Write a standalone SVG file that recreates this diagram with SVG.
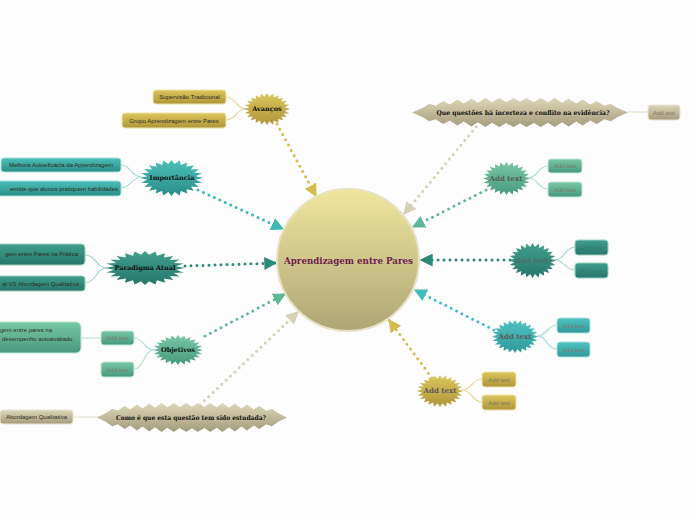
<svg xmlns="http://www.w3.org/2000/svg" xmlns:xlink="http://www.w3.org/1999/xlink" width="696" height="520" viewBox="0 0 696 520">
<style>
.bt{font-family:"Liberation Sans",Arial,sans-serif;font-size:6px;fill:#2e2e22}
.at{font-family:"Liberation Sans",Arial,sans-serif;font-size:6px;fill:#7a7a6a;text-anchor:middle}
.nt{font-family:"DejaVu Serif","Liberation Serif",serif;font-size:6.5px;font-weight:bold;fill:#111;text-anchor:middle}
.nta{font-family:"DejaVu Serif","Liberation Serif",serif;font-size:7px;font-weight:bold;fill:#5a5a5a;text-anchor:middle}
.main{fill:none;stroke-width:3;stroke-dasharray:0 6;stroke-linecap:round}
.sub{fill:none;stroke-width:1.2}
.box{stroke-width:1}
</style>
<defs>
<symbol id="burst" viewBox="-50 -50 100 100" preserveAspectRatio="none">
<polygon points="50,0 38.66,5.09 48.3,12.94 36.03,14.93 43.3,25 30.94,23.74 35.36,35.36 23.74,30.94 25,43.3 14.93,36.03 12.94,48.3 5.09,38.66 0,50 -5.09,38.66 -12.94,48.3 -14.93,36.03 -25,43.3 -23.74,30.94 -35.36,35.36 -30.94,23.74 -43.3,25 -36.03,14.93 -48.3,12.94 -38.66,5.09 -50,0 -38.66,-5.09 -48.3,-12.94 -36.03,-14.93 -43.3,-25 -30.94,-23.74 -35.36,-35.36 -23.74,-30.94 -25,-43.3 -14.93,-36.03 -12.94,-48.3 -5.09,-38.66 0,-50 5.09,-38.66 12.94,-48.3 14.93,-36.03 25,-43.3 23.74,-30.94 35.36,-35.36 30.94,-23.74 43.3,-25 36.03,-14.93 48.3,-12.94 38.66,-5.09"/>
</symbol>
<symbol id="wide" viewBox="-100 -15 200 30" preserveAspectRatio="none">
<polygon points="-100,0 -90,-4.8 -84,-9 -78,-6.9 -71,-12 -65,-8.4 -58,-13.5 -52,-9.4 -45,-14.5 -39,-10.1 -32,-15 -26,-10.6 -19,-15 -13,-10.9 -6,-15 0,-11 6,-15 13,-10.9 19,-15 26,-10.6 32,-15 39,-10.1 45,-14.5 52,-9.4 58,-13.5 65,-8.4 71,-12 78,-6.9 84,-9 90,-4.8 100,0 90,4.8 84,9 78,6.9 71,12 65,8.4 58,13.5 52,9.4 45,14.5 39,10.1 32,15 26,10.6 19,15 13,10.9 6,15 0,11 -6,15 -13,10.9 -19,15 -26,10.6 -32,15 -39,10.1 -45,14.5 -52,9.4 -58,13.5 -65,8.4 -71,12 -78,6.9 -84,9 -90,4.8"/>
</symbol>
<linearGradient id="gCenter" x1="0" y1="0" x2="0" y2="1"><stop offset="0" stop-color="#f0e69e"/><stop offset="1" stop-color="#afa577"/></linearGradient>
<linearGradient id="gGold" x1="0" y1="0" x2="0" y2="1"><stop offset="0" stop-color="#dcc65c"/><stop offset="1" stop-color="#ae963a"/></linearGradient>
<linearGradient id="gTeal" x1="0" y1="0" x2="0" y2="1"><stop offset="0" stop-color="#4cc0b8"/><stop offset="1" stop-color="#2a8c88"/></linearGradient>
<linearGradient id="gDark" x1="0" y1="0" x2="0" y2="1"><stop offset="0" stop-color="#40a08c"/><stop offset="1" stop-color="#26766a"/></linearGradient>
<linearGradient id="gGreen" x1="0" y1="0" x2="0" y2="1"><stop offset="0" stop-color="#78c8a6"/><stop offset="1" stop-color="#48987e"/></linearGradient>
<linearGradient id="gAqua" x1="0" y1="0" x2="0" y2="1"><stop offset="0" stop-color="#50c4c2"/><stop offset="1" stop-color="#2e9898"/></linearGradient>
<linearGradient id="gBeige" x1="0" y1="0" x2="0" y2="1"><stop offset="0" stop-color="#ddd6b8"/><stop offset="1" stop-color="#a49c7c"/></linearGradient>
<marker id="mGold" viewBox="0 0 10 10" refX="9" refY="5" markerWidth="13" markerHeight="13" markerUnits="userSpaceOnUse" orient="auto"><path d="M0,0 L10,5 L0,10 z" fill="#d4bc50"/></marker>
<marker id="mTeal" viewBox="0 0 10 10" refX="9" refY="5" markerWidth="13" markerHeight="13" markerUnits="userSpaceOnUse" orient="auto"><path d="M0,0 L10,5 L0,10 z" fill="#3cb8b0"/></marker>
<marker id="mDark" viewBox="0 0 10 10" refX="9" refY="5" markerWidth="13" markerHeight="13" markerUnits="userSpaceOnUse" orient="auto"><path d="M0,0 L10,5 L0,10 z" fill="#2e8a78"/></marker>
<marker id="mGreen" viewBox="0 0 10 10" refX="9" refY="5" markerWidth="13" markerHeight="13" markerUnits="userSpaceOnUse" orient="auto"><path d="M0,0 L10,5 L0,10 z" fill="#5cb896"/></marker>
<marker id="mAqua" viewBox="0 0 10 10" refX="9" refY="5" markerWidth="13" markerHeight="13" markerUnits="userSpaceOnUse" orient="auto"><path d="M0,0 L10,5 L0,10 z" fill="#40bcbc"/></marker>
<marker id="mBeige" viewBox="0 0 10 10" refX="9" refY="5" markerWidth="13" markerHeight="13" markerUnits="userSpaceOnUse" orient="auto"><path d="M0,0 L10,5 L0,10 z" fill="#d6d0b4"/></marker>
</defs>
<rect width="696" height="520" fill="#fdfdfd"/>

<g id="connectors">
<path class="main" stroke="#d4bc50" d="M277,124 L316,196" marker-end="url(#mGold)"/>
<path class="main" stroke="#3cb8b0" d="M198,190 L283,229" marker-end="url(#mTeal)"/>
<path class="main" stroke="#2e8a78" d="M185,266 L276,263" marker-end="url(#mDark)"/>
<path class="main" stroke="#5cb896" d="M205,336 L285,294" marker-end="url(#mGreen)"/>
<path class="main" stroke="#d6d0b4" d="M200,405 L298,312" marker-end="url(#mBeige)"/>
<path class="main" stroke="#d6d0b4" d="M480,122 L404,214" marker-end="url(#mBeige)"/>
<path class="main" stroke="#5cb896" d="M486,190 L413,227" marker-end="url(#mGreen)"/>
<path class="main" stroke="#2e8a78" d="M510,260 L421,260" marker-end="url(#mDark)"/>
<path class="main" stroke="#40bcbc" d="M494,330 L415,290" marker-end="url(#mAqua)"/>
<path class="main" stroke="#d4bc50" d="M432,378 L389,320" marker-end="url(#mGold)"/>
<path class="sub" stroke="#e6d9a0" d="M246,109 C236,109 236,97 226,97 M246,109 C236,109 236,120 226,120"/>
<path class="sub" stroke="#a8dcd6" d="M142,177 C131,177 131,165 121,165 M142,177 C131,177 131,188 121,188"/>
<path class="sub" stroke="#a8d4c8" d="M107,268 C96,268 96,255 85,255 M107,268 C96,268 96,283 85,283"/>
<path class="sub" stroke="#b4e0cc" d="M154,350 C144,350 144,338 134,338 M154,350 C144,350 144,369 134,369 M81,338 L101,338"/>
<path class="sub" stroke="#e0dccc" d="M73,417 L100,417 M628,112 L648,112"/>
<path class="sub" stroke="#b4e0cc" d="M528,178 C538,178 538,166 548,166 M528,178 C538,178 538,189 548,189"/>
<path class="sub" stroke="#a8d4c8" d="M554,260 C565,260 565,247 575,247 M554,260 C565,260 565,270 575,270"/>
<path class="sub" stroke="#a8dcd6" d="M537,336 C547,336 547,325 557,325 M537,336 C547,336 547,349 557,349"/>
<path class="sub" stroke="#e6d9a0" d="M462,390 C472,390 472,379 482,379 M462,390 C472,390 472,402 482,402"/>
</g>

<g id="center">
<circle cx="348" cy="260" r="71" fill="url(#gCenter)" stroke="#e8e2c4" stroke-width="2"/>
<text x="348.5" y="264" font-family="'DejaVu Serif','Liberation Serif',serif" font-size="10" font-weight="bold" fill="#6b1d50" text-anchor="middle" textLength="129" lengthAdjust="spacingAndGlyphs">Aprendizagem entre Pares</text>
</g>

<g id="n-avancos">
<use xlink:href="#burst" x="244" y="93" width="46" height="32" fill="url(#gGold)"/>
<text class="nt" x="267" y="111">Avanços</text>
</g>
<g id="n-avancos-1"><rect class="box" x="153" y="90" width="73" height="14" rx="3" fill="url(#gGold)" stroke="#f0e4a8"/><text class="bt" x="189.5" y="99" text-anchor="middle">Supervisão Tradicional</text></g>
<g id="n-avancos-2"><rect class="box" x="122" y="113" width="104" height="15" rx="3" fill="url(#gGold)" stroke="#f0e4a8"/><text class="bt" x="174" y="122.5" text-anchor="middle">Grupo Aprendizagem entre Pares</text></g>

<g id="n-importancia">
<use xlink:href="#burst" x="140" y="160" width="63" height="36" fill="url(#gTeal)"/>
<text class="nt" x="172" y="180">Importância</text>
</g>
<g id="n-importancia-1"><rect class="box" x="1" y="158" width="120" height="14" rx="3" fill="url(#gTeal)" stroke="#a8e0da"/><text class="bt" x="61" y="167" text-anchor="middle">Melhora Autoeficácia da Aprendizagem</text></g>
<g id="n-importancia-2"><rect class="box" x="-8" y="181" width="129" height="15" rx="3" fill="url(#gTeal)" stroke="#a8e0da"/><text class="bt" x="118" y="190.5" text-anchor="end">ermite que alunos pratiquem habilidades</text></g>

<g id="n-paradigma">
<use xlink:href="#burst" x="105" y="251" width="80" height="34" fill="url(#gDark)"/>
<text class="nt" x="145" y="270">Paradigma Atual</text>
</g>
<g id="n-paradigma-1"><rect class="box" x="-8" y="244" width="93" height="21" rx="4" fill="url(#gDark)" stroke="#9ccfc0"/><text class="bt" x="78" y="255.5" text-anchor="end">gem entre Pares na Prática</text></g>
<g id="n-paradigma-2"><rect class="box" x="-8" y="276" width="93" height="15" rx="3" fill="url(#gDark)" stroke="#9ccfc0"/><text class="bt" x="79" y="285.5" text-anchor="end">al VS Abordagem Qualitativa</text></g>

<g id="n-objetivos">
<use xlink:href="#burst" x="153" y="335" width="50" height="30" fill="url(#gGreen)"/>
<text class="nt" x="178" y="352">Objetivos</text>
</g>
<g id="n-objetivos-1"><rect class="box" x="101" y="331" width="33" height="14" rx="3" fill="url(#gGreen)" stroke="#bfe6d4"/><text class="at" x="117.5" y="340">Add text</text></g>
<g id="n-objetivos-2"><rect class="box" x="101" y="362" width="33" height="15" rx="3" fill="url(#gGreen)" stroke="#bfe6d4"/><text class="at" x="117.5" y="371.5">Add text</text></g>
<g id="n-objetivos-1-1"><rect class="box" x="-8" y="322" width="89" height="31" rx="5" fill="url(#gGreen)" stroke="#bfe6d4"/><text class="bt" x="0" y="332">gem entre pares na</text><text class="bt" x="2" y="340.5">desempenho autoavaliado</text></g>

<g id="n-como">
<use xlink:href="#wide" x="97" y="403" width="190" height="29" fill="url(#gBeige)"/>
<text class="nt" x="191" y="419.5" textLength="150" lengthAdjust="spacingAndGlyphs">Como é que esta questão tem sido estudada?</text>
</g>
<g id="n-como-1"><rect class="box" x="0" y="410" width="73" height="14" rx="3" fill="url(#gBeige)" stroke="#e8e4d4"/><text class="bt" x="36.5" y="419" text-anchor="middle">Abordagem Qualitativa</text></g>

<g id="n-questoes">
<use xlink:href="#wide" x="412" y="98" width="216" height="29" fill="url(#gBeige)"/>
<text class="nt" x="523" y="114.5" textLength="173" lengthAdjust="spacingAndGlyphs">Que questões há incerteza e conflito na evidência?</text>
</g>
<g id="n-questoes-1"><rect class="box" x="648" y="105" width="32" height="15" rx="3" fill="url(#gBeige)" stroke="#e8e4d4"/><text class="at" x="664" y="114.5">Add text</text></g>

<g id="n-r1">
<use xlink:href="#burst" x="483" y="162" width="47" height="33" fill="url(#gGreen)"/>
<text class="nta" x="506" y="180.5">Add text</text>
</g>
<g id="n-r1-1"><rect class="box" x="548" y="159" width="34" height="14" rx="3" fill="url(#gGreen)" stroke="#bfe6d4"/><text class="at" x="565" y="168">Add text</text></g>
<g id="n-r1-2"><rect class="box" x="548" y="182" width="34" height="15" rx="3" fill="url(#gGreen)" stroke="#bfe6d4"/><text class="at" x="565" y="191.5">Add text</text></g>

<g id="n-r2">
<use xlink:href="#burst" x="509" y="243" width="47" height="35" fill="url(#gDark)"/>
<text class="nta" x="532" y="262.5" style="fill:#4f6e66">Add text</text>
</g>
<g id="n-r2-1"><rect class="box" x="575" y="240" width="33" height="15" rx="3" fill="url(#gDark)" stroke="#9ccfc0"/><text class="at" x="591.5" y="249.5" style="fill:#3a7a6a">Add text</text></g>
<g id="n-r2-2"><rect class="box" x="575" y="263" width="33" height="15" rx="3" fill="url(#gDark)" stroke="#9ccfc0"/><text class="at" x="591.5" y="272.5" style="fill:#3a7a6a">Add text</text></g>

<g id="n-r3">
<use xlink:href="#burst" x="492" y="320" width="46" height="33" fill="url(#gAqua)"/>
<text class="nta" x="515" y="338.5">Add text</text>
</g>
<g id="n-r3-1"><rect class="box" x="557" y="318" width="33" height="15" rx="3" fill="url(#gAqua)" stroke="#a8e0e0"/><text class="at" x="573.5" y="327.5">Add text</text></g>
<g id="n-r3-2"><rect class="box" x="557" y="342" width="33" height="15" rx="3" fill="url(#gAqua)" stroke="#a8e0e0"/><text class="at" x="573.5" y="351.5">Add text</text></g>

<g id="n-r4">
<use xlink:href="#burst" x="417" y="375" width="46" height="32" fill="url(#gGold)"/>
<text class="nta" x="440" y="393">Add text</text>
</g>
<g id="n-r4-1"><rect class="box" x="482" y="372" width="34" height="15" rx="3" fill="url(#gGold)" stroke="#f0e4a8"/><text class="at" x="499" y="381.5">Add text</text></g>
<g id="n-r4-2"><rect class="box" x="482" y="395" width="34" height="15" rx="3" fill="url(#gGold)" stroke="#f0e4a8"/><text class="at" x="499" y="404.5">Add text</text></g>
</svg>
